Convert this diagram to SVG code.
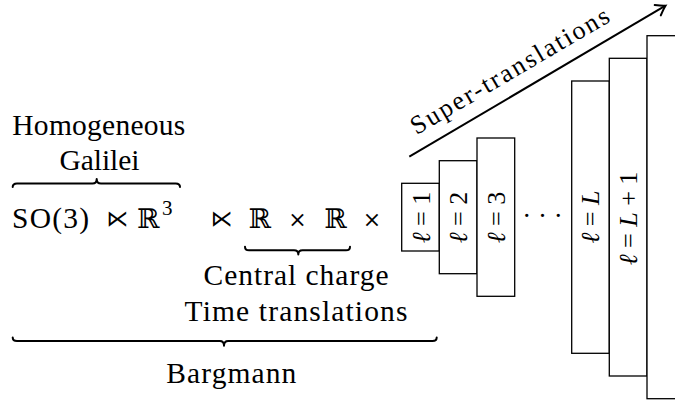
<svg xmlns="http://www.w3.org/2000/svg" width="675" height="400" viewBox="0 0 675 400">
<style>
.t{font-family:'Liberation Serif','DejaVu Serif',serif;font-size:29.5px;fill:#000}
.m{font-family:'DejaVu Serif','Liberation Serif',serif;fill:#000}
.s{font-family:'DejaVu Serif','DejaVu Sans',serif;fill:#000}
.lb{font-family:'Liberation Serif','DejaVu Serif',serif;font-size:26px;fill:#000}
.i{font-style:italic}
.box{fill:#fff;stroke:#000;stroke-width:1.3}
.brace{fill:none;stroke:#000;stroke-width:2;stroke-linejoin:round;stroke-linecap:round}
.arrow{fill:none;stroke:#000;stroke-width:2}
</style>
<defs>
<marker id="ah" markerUnits="userSpaceOnUse" markerWidth="20" markerHeight="20" refX="0" refY="0" viewBox="-12 -10 14 20" orient="auto">
<path d="M-9,-6 Q-3,-1.5 0,0 Q-3,1.5 -9,6" fill="none" stroke="#000" stroke-width="2" stroke-linecap="round"/>
</marker>
</defs>
<rect width="675" height="400" fill="#fff"/>

<g id="galilei-label">
<text class="t" x="98.8" y="135" text-anchor="middle" textLength="173" lengthAdjust="spacing">Homogeneous</text>
<text class="t" x="99.5" y="170" text-anchor="middle" textLength="80" lengthAdjust="spacing">Galilei</text>
</g>

<g id="math-row">
<text class="t" x="12" y="228" textLength="77" lengthAdjust="spacing">SO(3)</text>
<text class="s" x="117.5" y="226" font-size="22" text-anchor="middle">⋉</text>
<text class="m" x="148.5" y="227.5" font-size="27" text-anchor="middle">ℝ</text>
<text class="t" x="162" y="215" style="font-size:21px">3</text>
<text class="s" x="221.7" y="226" font-size="22" text-anchor="middle">⋉</text>
<text class="m" x="260" y="227.5" font-size="27" text-anchor="middle">ℝ</text>
<text class="s" x="297.5" y="227" font-size="22" text-anchor="middle">×</text>
<text class="m" x="335.8" y="227.5" font-size="27" text-anchor="middle">ℝ</text>
<text class="s" x="372" y="227" font-size="22" text-anchor="middle">×</text>
</g>

<g id="central-label">
<text class="t" x="296" y="285" text-anchor="middle" textLength="185" lengthAdjust="spacing">Central charge</text>
<text class="t" x="296" y="321" text-anchor="middle" textLength="223" lengthAdjust="spacing">Time translations</text>
</g>

<g id="bargmann-label">
<text class="t" x="231.3" y="382.7" text-anchor="middle" textLength="130" lengthAdjust="spacing">Bargmann</text>
</g>

<g id="braces">
<path class="brace" d="M12.7,187 Q12.7,183.5 17,183.5 L92.5,183.5 Q96.7,183.5 96.7,179 Q96.7,183.5 101,183.5 L175.7,183.5 Q180,183.5 180,187"/>
<path class="brace" d="M245,246.7 Q245,250.3 249,250.3 L294,250.3 Q298.3,250.3 298.3,254.5 Q298.3,250.3 302.5,250.3 L346,250.3 Q350,250.3 350,246.7"/>
<path class="brace" d="M12.7,337.5 Q12.7,341 17,341 L219.8,341 Q224,341 224,345.7 Q224,341 228.2,341 L432.5,341 Q436.7,341 436.7,337.5"/>
</g>

<g id="box-l1">
<rect class="box" x="401.7" y="183.3" width="37.6" height="67.7"/>
<text class="lb" transform="translate(429.5,217.5) rotate(-90)" text-anchor="middle"><tspan class="i">ℓ</tspan> = 1</text>
</g>
<g id="box-l2">
<rect class="box" x="439.3" y="160.7" width="37.7" height="113"/>
<text class="lb" transform="translate(467.2,217.5) rotate(-90)" text-anchor="middle"><tspan class="i">ℓ</tspan> = 2</text>
</g>
<g id="box-l3">
<rect class="box" x="477" y="138" width="37.7" height="158.3"/>
<text class="lb" transform="translate(504.9,217.5) rotate(-90)" text-anchor="middle"><tspan class="i">ℓ</tspan> = 3</text>
</g>
<g id="dots">
<text class="lb" x="542.5" y="225" style="font-size:27px" text-anchor="middle">· · ·</text>
</g>
<g id="box-lL">
<rect class="box" x="571.7" y="81" width="37.6" height="272.3"/>
<text class="lb" transform="translate(598.5,217) rotate(-90)" text-anchor="middle"><tspan class="i">ℓ</tspan> = <tspan class="i">L</tspan></text>
</g>
<g id="box-lL1">
<rect class="box" x="609.3" y="58.3" width="37.7" height="317.7"/>
<text class="lb" transform="translate(636.7,218.5) rotate(-90)" text-anchor="middle"><tspan class="i">ℓ</tspan> = <tspan class="i">L</tspan> + 1</text>
</g>
<g id="box-last">
<rect class="box" x="647" y="35.7" width="40" height="363"/>
</g>

<g id="connectors">
<line class="arrow" x1="409.3" y1="156.7" x2="665.5" y2="5.7" marker-end="url(#ah)"/>
</g>
<g id="super-label">
<text class="t" transform="translate(514,78) rotate(-30.4)" text-anchor="middle" style="font-size:26px" textLength="226" lengthAdjust="spacing">Super-translations</text>
</g>
</svg>
